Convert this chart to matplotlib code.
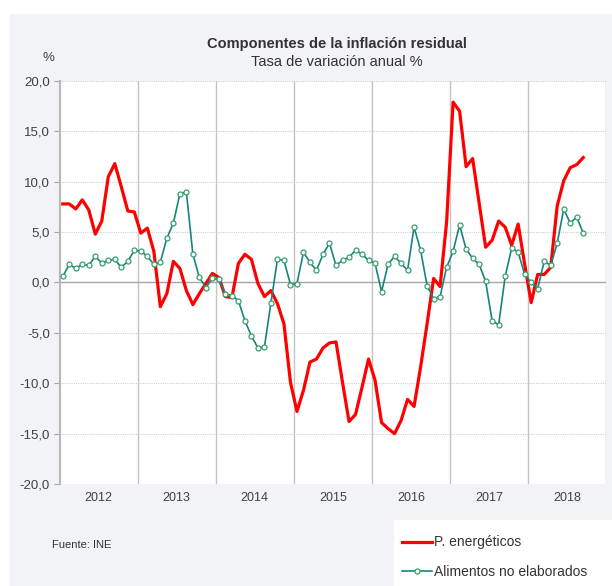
import numpy as np
import matplotlib
matplotlib.use("Agg")
import matplotlib.pyplot as plt
from matplotlib.patches import Rectangle
from matplotlib.lines import Line2D

plt.rcParams['font.family'] = ['Liberation Sans', 'DejaVu Sans']

# Monthly data, Jan 2012 - Sep 2018
years = ["2012", "2013", "2014", "2015", "2016", "2017", "2018"]

energeticos = [
    7.8, 7.8, 7.3, 8.2, 7.2, 4.8, 6.1, 10.5, 11.8, 9.5, 7.1, 7.0,
    4.9, 5.4, 3.1, -2.4, -1.1, 2.1, 1.4, -0.8, -2.2, -1.1, -0.1, 0.9,
    0.5, -1.4, -1.5, 1.9, 2.8, 2.3, -0.1, -1.4, -0.8, -2.1, -4.1, -9.9,
    -12.8, -10.7, -7.9, -7.6, -6.5, -6.0, -5.9, -9.9, -13.8, -13.1, -10.4, -7.6,
    -9.7, -13.9, -14.5, -15.0, -13.7, -11.6, -12.3, -8.4, -4.1, 0.4, -0.4, 6.0,
    17.9, 17.0, 11.5, 12.3, 7.9, 3.5, 4.2, 6.1, 5.5, 3.7, 5.8, 1.8,
    -2.0, 0.8, 0.8, 1.5, 7.6, 10.1, 11.4, 11.7, 12.4,
]

alimentos = [
    0.6, 1.8, 1.4, 1.8, 1.7, 2.6, 1.9, 2.2, 2.3, 1.5, 2.1, 3.2,
    3.1, 2.6, 1.8, 2.0, 4.4, 5.9, 8.8, 9.0, 2.8, 0.5, -0.5, 0.4,
    0.3, -1.1, -1.3, -1.8, -3.8, -5.3, -6.5, -6.4, -2.0, 2.3, 2.2, -0.2,
    -0.1, 3.0, 2.0, 1.2, 2.8, 3.9, 1.7, 2.2, 2.5, 3.2, 2.8, 2.2,
    1.9, -0.9, 1.8, 2.6, 1.9, 1.2, 5.5, 3.2, -0.3, -1.6, -1.4, 1.5,
    3.1, 5.7, 3.3, 2.4, 1.8, 0.1, -3.8, -4.2, 0.6, 3.4, 3.0, 0.8,
    0.0, -0.6, 2.1, 1.7, 3.9, 7.3, 5.9, 6.5, 4.9,
]

yticks = [20, 15, 10, 5, 0, -5, -10, -15, -20]

W, H = 612, 586
fig = plt.figure(figsize=(W / 100, H / 100), dpi=100)
fig.patch.set_facecolor('white')

# grey panel behind the chart
fig.add_artist(Rectangle((10 / W, 0), 1 - 10 / W, 1 - 14 / H, transform=fig.transFigure,
                         facecolor='#f2f3f7', edgecolor='none', zorder=-10))

ax = fig.add_axes([59.5 / W, 1 - 484 / H, (606 - 59.5) / W, (484 - 81) / H])
ax.set_facecolor('white')

x = np.arange(len(energeticos)) + 0.5
ax.plot(x, energeticos, color='#ff0000', lw=2.3, zorder=3)
ax.plot(np.arange(len(alimentos)) + 0.5, alimentos, color='#16857f', lw=1.2,
        marker='o', markersize=3.6, markerfacecolor='white',
        markeredgecolor='#3a9e6c', markeredgewidth=0.9, zorder=4)

ax.set_xlim(0, 12 * len(years))
ax.set_ylim(-20, 20)

# horizontal grid (dotted) and zero line
for v in yticks:
    if v != 0:
        ax.axhline(v, color='#cfcfcf', lw=0.8, ls=(0, (1, 1)), zorder=1)
ax.axhline(0, color='#a6a6a6', lw=1.0, zorder=2)

# year separators
for k in range(1, len(years) + 1):
    ax.axvline(12 * k, color='#c4c4c4', lw=1.0, zorder=1)

ax.set_yticks(yticks)
ax.set_yticklabels([f"{v:.1f}".replace('.', ',') for v in yticks])
ax.set_xticks([12 * k + 6 for k in range(len(years))])
ax.set_xticklabels(years)
ax.tick_params(axis='x', length=0, pad=6, labelsize=9, labelcolor='#404040')
ax.tick_params(axis='y', length=4, width=0.8, color='#a6a6a6', pad=3,
               labelsize=9.5, labelcolor='#404040')

for s in ['top', 'right', 'bottom']:
    ax.spines[s].set_visible(False)
ax.spines['left'].set_color('#b8b8b8')
ax.spines['left'].set_linewidth(1.5)

fig.text(48 / W, 1 - 58 / H, '%', ha='center', va='center', fontsize=9.5, color='#404040')
fig.text(337 / W, 1 - 44 / H, 'Componentes de la inflación residual', ha='center', va='center',
         fontsize=10.5, fontweight='bold', color='#333333')
fig.text(337 / W, 1 - 62 / H, 'Tasa de variación anual %', ha='center', va='center',
         fontsize=10.5, color='#333333')
fig.text(52 / W, 1 - 545 / H, 'Fuente: INE', ha='left', va='center', fontsize=8, color='#333333')

# legend box
fig.add_artist(Rectangle((394 / W, 0), 1 - 394 / W, 66 / H, transform=fig.transFigure,
                         facecolor='white', edgecolor='none', zorder=5))
handles = [
    Line2D([], [], color='#ff0000', lw=2.3),
    Line2D([], [], color='#16857f', lw=1.2, marker='o', markersize=3.6,
           markerfacecolor='white', markeredgecolor='#3a9e6c', markeredgewidth=0.9),
]
leg = fig.legend(handles, ['P. energéticos', 'Alimentos no elaborados'],
                 loc='center left', bbox_to_anchor=(396 / W, 1 - 557 / H),
                 frameon=False, fontsize=10, handlelength=2.2, handletextpad=0.1,
                 labelspacing=1.1, borderaxespad=0)
leg.set_zorder(6)
for t in leg.get_texts():
    t.set_color('#333333')

fig.savefig('out.png', dpi=100, facecolor='white')
